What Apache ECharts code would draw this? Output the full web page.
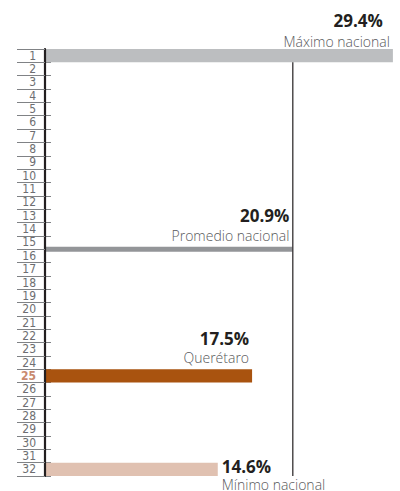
<!DOCTYPE html>
<html>
<head>
<meta charset="utf-8">
<script src="https://cdn.jsdelivr.net/npm/echarts@6/dist/echarts.min.js"></script>
<style>
html,body{margin:0;padding:0;background:#fff;}
#chart{width:400px;height:491px;}
</style>
</head>
<body>
<div id="chart"></div>
<script>
// ---- data ----
const rankLabels = ['1','2','3','4','5','6','7','8','9','10','11','12','13','14','15','16','17','18','19','20','21','22','23','24','25','26','27','28','29','30','31','32'];
const entryNames = ['Máximo nacional', 'Promedio nacional', 'Querétaro', 'Mínimo nacional'];
const entryValues = [29.4, 20.9, 17.5, 14.6];
const entryRanks = ['1', '15', '25', '32'];
const valueLabels = ['29.4%', '20.9%', '17.5%', '14.6%'];
const highlightRank = '25';

// ---- styles ----
const barColors = ['#bcbec0', '#939598', '#a9530f', '#e0c1b1'];
const labelFontNum = 'bold 17px "Open Sans", "Noto Sans", sans-serif';
const labelFontSub = '300 14px "Open Sans", "Noto Sans", sans-serif';
const axisFont = '"Liberation Sans Narrow", "DejaVu Sans Condensed", "Roboto", sans-serif';

const chart = echarts.init(document.getElementById('chart'), null, {renderer: 'svg'});

const seriesData = entryValues.map((v, i) => [v, rankLabels.indexOf(entryRanks[i])]);

function renderItem(params, api) {
  const k = params.dataIndex;
  const v = api.value(0);
  const idx = api.value(1);
  const start = api.coord([0, idx]);
  const end = api.coord([v, idx]);
  const rowH = api.size([0, 1])[1];
  const children = [];
  let barTop, barH;
  if (k === 1) {
    // national average: thin bar at the lower boundary of its row
    barH = 5;
    barTop = start[1] + rowH / 2 - barH / 2;
  } else {
    barH = rowH;
    barTop = start[1] - rowH / 2;
  }
  children.push({
    type: 'rect',
    shape: {x: start[0], y: barTop, width: end[0] - start[0], height: barH},
    style: {fill: barColors[k]}
  });
  if (k === 1) {
    const y1 = api.coord([v, 0])[1] + rowH / 2;
    const y2 = api.coord([v, rankLabels.length - 1])[1] + rowH / 2;
    children.push({
      type: 'line',
      shape: {x1: end[0] + 0.5, y1: y1, x2: end[0] + 0.5, y2: y2},
      style: {stroke: '#231f20', lineWidth: 1.2},
      z2: 5
    });
  }
  if (k === 3) {
    const cy = start[1];
    children.push({
      type: 'text',
      style: {text: valueLabels[k], x: end[0] + 4, y: cy - 3, font: labelFontNum, lineHeight: 15, fill: '#231f20', align: 'left', verticalAlign: 'middle'}
    });
    children.push({
      type: 'text',
      style: {text: entryNames[k], x: end[0] + 4, y: cy + 15, font: labelFontSub, lineHeight: 12, fill: '#58595b', align: 'left', verticalAlign: 'middle'}
    });
  } else {
    const subGap = (k === 0) ? 8 : 11.5;
    const numGap = (k === 0) ? 28.5 : 31;
    const numShift = (k === 0) ? 10 : 3;
    children.push({
      type: 'text',
      style: {text: valueLabels[k], x: end[0] - numShift, y: barTop - numGap, font: labelFontNum, lineHeight: 15, fill: '#231f20', align: 'right', verticalAlign: 'middle'}
    });
    children.push({
      type: 'text',
      style: {text: entryNames[k], x: end[0] - 3, y: barTop - subGap, font: labelFontSub, lineHeight: 13, fill: '#58595b', align: 'right', verticalAlign: 'middle'}
    });
  }
  return {type: 'group', children: children};
}

const option = {
  backgroundColor: '#ffffff',
  animation: false,
  grid: {left: 45, right: 0, top: 49, bottom: 15, containLabel: false},
  xAxis: {type: 'value', min: 0, max: 30, show: false},
  yAxis: [
    {
      type: 'category',
      data: rankLabels,
      inverse: true,
      position: 'left',
      axisLine: {show: true, lineStyle: {color: '#231f20', width: 2.2}},
      axisTick: {show: true, interval: 0, length: 28, lineStyle: {color: '#808285', width: 1}},
      axisLabel: {
        interval: 0,
        margin: 9,
        fontFamily: axisFont,
        fontSize: 12,
        lineHeight: 12,
        color: '#6d6e71',
        formatter: function (val) {
          return val === highlightRank ? '{h|' + val + '}' : val;
        },
        rich: {h: {fontFamily: axisFont, fontSize: 12, lineHeight: 12, fontWeight: 'bold', color: '#c98a6e'}}
      },
      splitLine: {show: false},
      z: 3
    },
    {
      type: 'category',
      data: rankLabels,
      inverse: true,
      position: 'left',
      offset: 0,
      axisLine: {show: false},
      axisTick: {show: true, interval: 0, inside: true, length: 6, lineStyle: {color: '#808285', width: 1}},
      axisLabel: {show: false},
      splitLine: {show: false}
    }
  ],
  series: [{
    type: 'custom',
    renderItem: renderItem,
    data: seriesData,
    clip: false,
    z: 2,
    encode: {x: 0, y: 1}
  }]
};
chart.setOption(option);
</script>
</body>
</html>
